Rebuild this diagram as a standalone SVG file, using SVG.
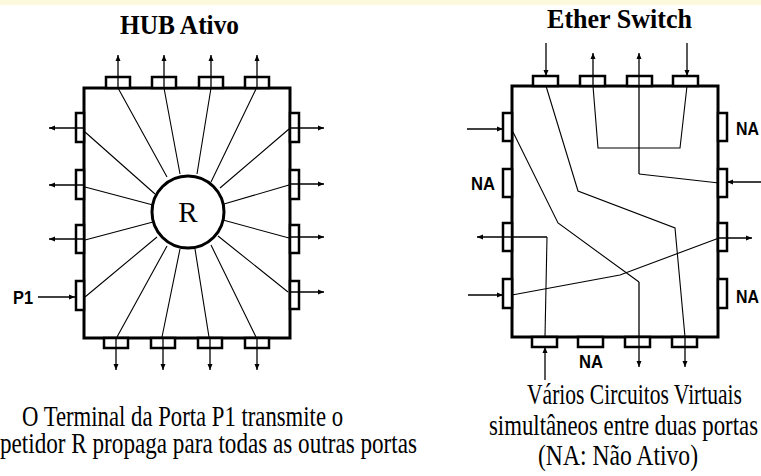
<svg xmlns="http://www.w3.org/2000/svg" width="761" height="476" viewBox="0 0 761 476">
<defs>
<style>
.box{fill:#fff;stroke:#000;stroke-width:3}
.tab{fill:#fff;stroke:#000;stroke-width:2.5}
.ln{fill:none;stroke:#000;stroke-width:1.1}
.ar{fill:none;stroke:#000;stroke-width:1.3;marker-end:url(#ah)}
.title{font-family:"Liberation Serif","Times New Roman",serif;font-weight:bold;font-size:28px;fill:#000}
.cap{font-family:"Liberation Serif","Times New Roman",serif;font-size:29px;fill:#000}
.lbl{font-family:"Liberation Sans",Arial,sans-serif;font-size:18px;font-weight:bold;fill:#000}
</style>
<marker id="ah" markerUnits="userSpaceOnUse" markerWidth="7" markerHeight="6" refX="6" refY="3" orient="auto">
<path d="M0,0.5 L6,3 L0,5.5 z" fill="#000"/>
</marker>
</defs>
<rect x="0" y="0" width="761" height="476" fill="#fff"/>
<rect x="0" y="0" width="761" height="5" fill="#fdf9dc"/>

<g id="hub">
<text class="title" x="120" y="34" textLength="119" lengthAdjust="spacingAndGlyphs">HUB Ativo</text>
<rect class="box" x="84" y="88" width="206" height="250"/>
<g id="hub-ports">
<rect class="tab" x="106" y="77" width="24" height="11"/>
<rect class="tab" x="152" y="77" width="24" height="11"/>
<rect class="tab" x="199" y="77" width="24" height="11"/>
<rect class="tab" x="245" y="77" width="24" height="11"/>
<rect class="tab" x="104" y="338" width="24" height="10"/>
<rect class="tab" x="151" y="338" width="24" height="10"/>
<rect class="tab" x="198" y="338" width="24" height="10"/>
<rect class="tab" x="245" y="338" width="24" height="10"/>
<rect class="tab" x="76" y="113" width="8" height="29"/>
<rect class="tab" x="76" y="170" width="8" height="29"/>
<rect class="tab" x="76" y="225" width="8" height="28"/>
<rect class="tab" x="76" y="281" width="8" height="29"/>
<rect class="tab" x="290" y="113" width="9" height="29"/>
<rect class="tab" x="290" y="170" width="9" height="29"/>
<rect class="tab" x="290" y="225" width="9" height="28"/>
<rect class="tab" x="290" y="281" width="9" height="28"/>
</g>
<g id="hub-R">
<circle cx="188" cy="212" r="36" fill="#fff" stroke="#000" stroke-width="3"/>
<text class="cap" x="188" y="222" text-anchor="middle" font-size="26">R</text>
</g>
<text class="lbl" x="13" y="304" textLength="20" lengthAdjust="spacingAndGlyphs">P1</text>
</g>

<g id="hub-connectors">
<path class="ln" d="M118,88 L167,177 M164,88 L180,174 M211,88 L197,174 M256,89 L211,182 M85,132 L155,194 M289,129 L220,188 M85,187 L153,205 M289,185 L224,204 M85,240 L153,222 M289,238 L223,220 M85,297 L157,237 M288,292 L218,236 M117,337 L167,246 M162,337 L180,249 M209,337 L195,249 M256,337 L211,245"/>
<path class="ar" d="M118,88 V55"/>
<path class="ar" d="M164,88 V55"/>
<path class="ar" d="M211,88 V55"/>
<path class="ar" d="M257,88 V55"/>
<path class="ar" d="M116,338 V370"/>
<path class="ar" d="M163,338 V370"/>
<path class="ar" d="M210,338 V370"/>
<path class="ar" d="M257,338 V370"/>
<path class="ar" d="M84,128 H49"/>
<path class="ar" d="M84,185 H49"/>
<path class="ar" d="M84,239 H49"/>
<path class="ar" d="M290,128 H324"/>
<path class="ar" d="M290,184 H324"/>
<path class="ar" d="M290,237 H324"/>
<path class="ar" d="M290,292 H324"/>
<path class="ar" d="M38,297 H75"/>
</g>

<g id="switch">
<text class="title" x="547" y="28" textLength="145" lengthAdjust="spacingAndGlyphs">Ether Switch</text>
<rect class="box" x="512" y="86" width="206" height="251"/>
<g id="switch-ports">
<rect class="tab" x="533" y="76" width="25" height="10"/>
<rect class="tab" x="580" y="76" width="25" height="10"/>
<rect class="tab" x="627" y="76" width="25" height="10"/>
<rect class="tab" x="673" y="76" width="25" height="10"/>
<rect class="tab" x="532" y="337" width="25" height="10"/>
<rect class="tab" x="578" y="337" width="25" height="10"/>
<rect class="tab" x="625" y="337" width="25" height="10"/>
<rect class="tab" x="672" y="337" width="25" height="10"/>
<rect class="tab" x="503" y="113" width="9" height="28"/>
<rect class="tab" x="503" y="169" width="9" height="28"/>
<rect class="tab" x="503" y="223" width="9" height="28"/>
<rect class="tab" x="503" y="279" width="9" height="29"/>
<rect class="tab" x="718" y="113" width="9" height="28"/>
<rect class="tab" x="718" y="169" width="9" height="28"/>
<rect class="tab" x="718" y="223" width="9" height="28"/>
<rect class="tab" x="718" y="279" width="9" height="29"/>
</g>
<text class="lbl" x="471" y="190" textLength="24" lengthAdjust="spacingAndGlyphs">NA</text>
<text class="lbl" x="736" y="135" textLength="23" lengthAdjust="spacingAndGlyphs">NA</text>
<text class="lbl" x="736" y="303" textLength="23" lengthAdjust="spacingAndGlyphs">NA</text>
<text class="lbl" x="579" y="368" textLength="24" lengthAdjust="spacingAndGlyphs">NA</text>
</g>

<g id="switch-connectors">
<path class="ln" d="M546,86 L578,191 L675,228 L685,337"/>
<path class="ln" d="M687,86 L680,148 L598,148 L593,86"/>
<path class="ln" d="M719,183 L639,174"/>
<path class="ln" d="M513,132 L558,223 L639,282"/>
<path class="ln" d="M545,337 L547,237"/>
<path class="ln" d="M512,295 L620,275 L719,238"/>
<path class="ar" d="M546,43 V76"/>
<path class="ar" d="M593,86 V53"/>
<path class="ar" d="M639,174 V53"/>
<path class="ar" d="M687,43 V76"/>
<path class="ar" d="M467,129 H503"/>
<path class="ar" d="M547,237 H477"/>
<path class="ar" d="M468,295 H503"/>
<path class="ar" d="M761,182 H727"/>
<path class="ar" d="M719,238 H752"/>
<path class="ar" d="M545,380 V347"/>
<path class="ar" d="M639,282 V367"/>
<path class="ar" d="M685,337 V367"/>
</g>

<g id="captions">
<text class="cap" x="22" y="426" textLength="321" lengthAdjust="spacingAndGlyphs">O Terminal da Porta P1 transmite o</text>
<text class="cap" x="0" y="453" textLength="417" lengthAdjust="spacingAndGlyphs">petidor R propaga para todas as outras portas</text>
<text class="cap" x="527" y="404" textLength="215" lengthAdjust="spacingAndGlyphs">Vários Circuitos Virtuais</text>
<text class="cap" x="489" y="435" textLength="269" lengthAdjust="spacingAndGlyphs">simultâneos entre duas portas</text>
<text class="cap" x="538" y="465" textLength="160" lengthAdjust="spacingAndGlyphs">(NA: Não Ativo)</text>
</g>
</svg>
